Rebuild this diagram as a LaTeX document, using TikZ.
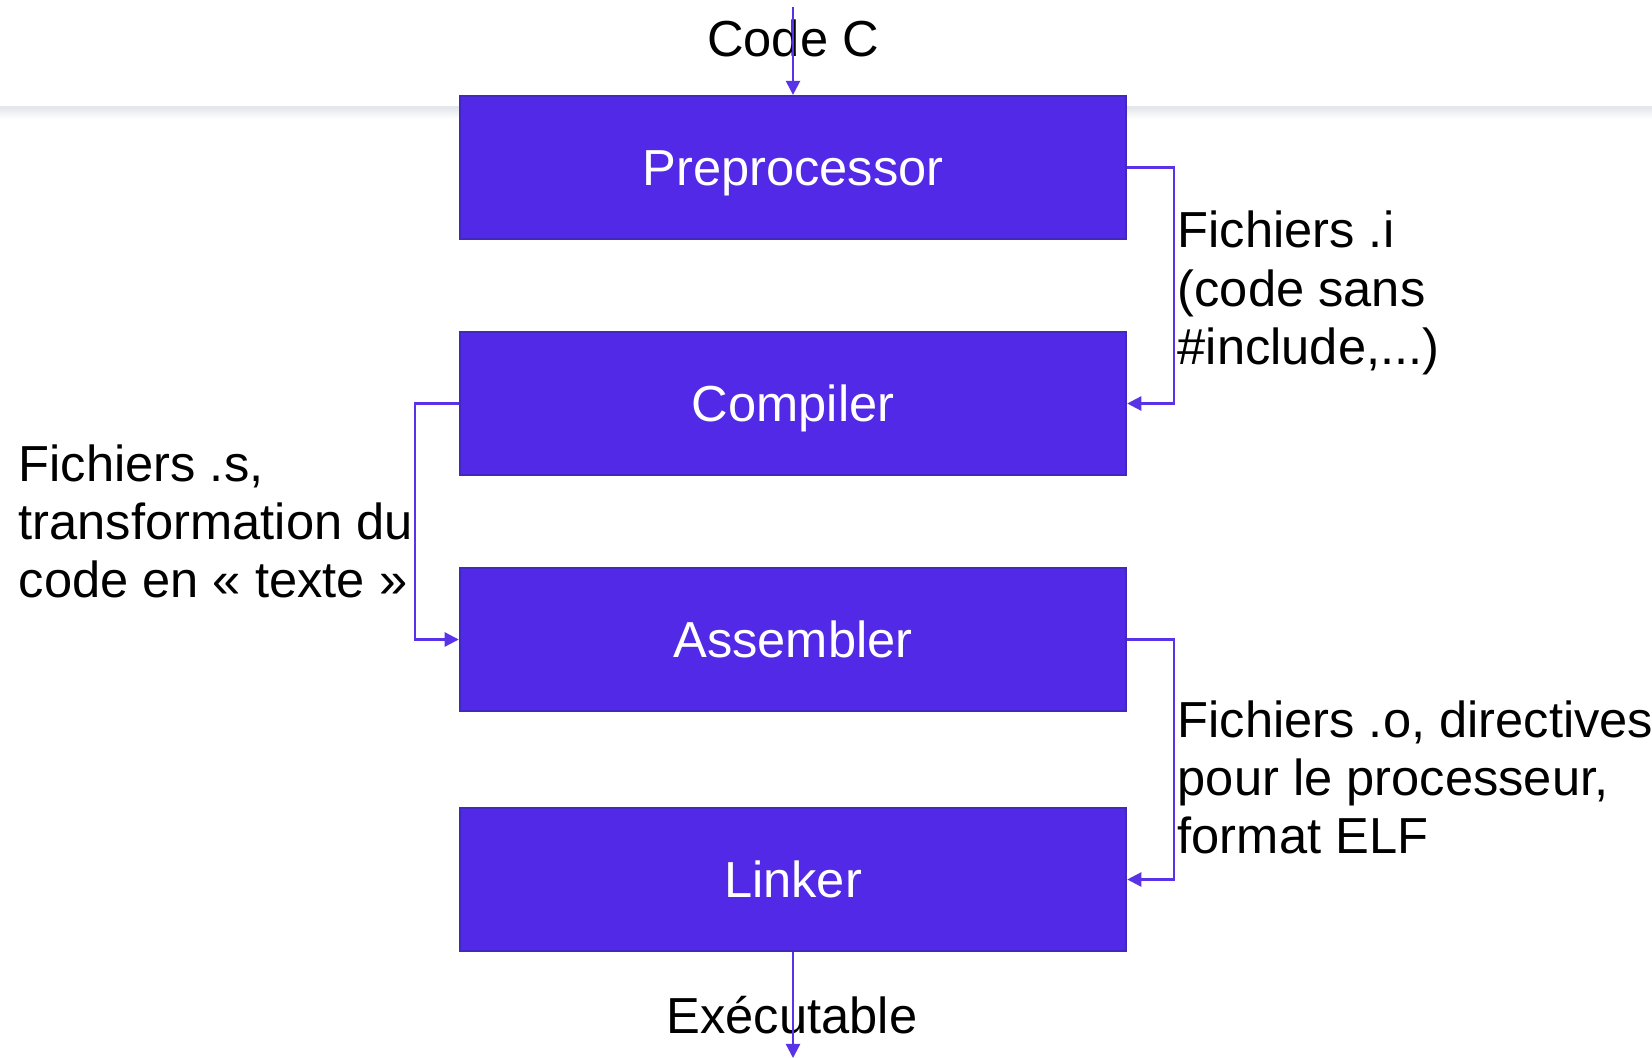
\documentclass[tikz,border=0pt]{standalone}
\usepackage{fontspec}
\setmainfont{Liberation Sans}
\usetikzlibrary{arrows.meta}
\definecolor{boxfill}{HTML}{5229E6}
\definecolor{boxline}{HTML}{4128BE}
\definecolor{conncol}{HTML}{5A33E8}
\definecolor{sepgrey}{HTML}{E3E6EA}
\begin{document}
\begin{tikzpicture}[x=0.01cm,y=-0.01cm,
  font=\fontsize{14.4pt}{16.5pt}\selectfont,
  stage/.style={draw=boxline, line width=0.6pt, fill=boxfill, text=white,
    minimum width=6.66cm, minimum height=1.43cm, inner sep=0pt,
    text height=10.3pt, text depth=0pt},
  conn/.style={draw=conncol, line width=0.65pt, -{Triangle[length=4pt,width=4pt]}},
  lbl/.style={inner sep=0pt, text=black}]
\useasboundingbox (0,0) rectangle (1652,1058);
% separator
\shade[top color=sepgrey, bottom color=white] (0,107) rectangle (1652,119);
\draw[sepgrey, line width=0.6pt] (0,107) -- (1652,107);
% stages
\node[stage] (pre) at (793,167.5) {Preprocessor};
\node[stage] (comp) at (793,403.5) {Compiler};
\node[stage] (asm) at (793,639.5) {Assembler};
\node[stage] (lin) at (793,879.5) {Linker};
% labels
\node[lbl, anchor=base] (lcode) at (793,57) {Code C};
\node[lbl, anchor=base] (lexe) at (792,1033) {Exécutable};
\node[lbl, anchor=base west] (li) at (1177,248) {\begin{tabular}[t]{@{}l@{}}Fichiers .i\\(code sans\\\#include,...)\end{tabular}};
\node[lbl, anchor=base west] (ls) at (18,481) {\begin{tabular}[t]{@{}l@{}}Fichiers .s,\\transformation du\\code en « texte »\end{tabular}};
\node[lbl, anchor=base west] (lo) at (1177,737) {\begin{tabular}[t]{@{}l@{}}Fichiers .o, directives\\pour le processeur,\\format ELF\end{tabular}};
% connectors
\coordinate (in) at (793,7);
\coordinate (out) at (793,1058);
\draw[conn] (in) -- (pre.north);
\draw[conn] (pre.east) -- ++(47,0) |- (comp.east);
\draw[conn] (comp.west) -- ++(-44,0) |- (asm.west);
\draw[conn] (asm.east) -- ++(47,0) |- (lin.east);
\draw[conn] (lin.south) -- (out);
\end{tikzpicture}
\end{document}
